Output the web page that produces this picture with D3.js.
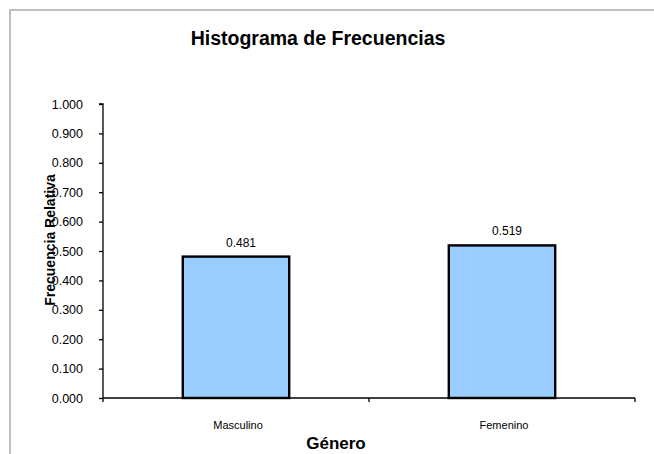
<!DOCTYPE html>
<html>
<head>
<meta charset="utf-8">
<script src="https://cdn.jsdelivr.net/npm/d3@7"></script>
<style>
  html, body { margin: 0; padding: 0; background: #fff; }
  svg { display: block; font-family: "Liberation Sans", Arial, sans-serif; }
</style>
</head>
<body>
<svg id="chart" width="654" height="454"></svg>
<script>
const categories = ["Masculino", "Femenino"];
const values = [0.481, 0.519];
const yTicks = [0, 0.1, 0.2, 0.3, 0.4, 0.5, 0.6, 0.7, 0.8, 0.9, 1.0];
const title = "Histograma de Frecuencias";
const xTitle = "Género";
const yTitle = "Frecuencia Relativa";

const svg = d3.select("#chart");
const W = 654, H = 454;
const plot = { left: 103, right: 635, top: 104, bottom: 398 };

// outer chart border
svg.append("rect")
  .attr("x", 10).attr("y", 10)
  .attr("width", W + 10).attr("height", H + 10)
  .attr("fill", "#fff").attr("stroke", "#c0c0c0").attr("stroke-width", 2);

const x = d3.scaleBand().domain(categories)
  .range([plot.left, plot.right])
  .paddingInner(0.6).paddingOuter(0.3);
const y = d3.scaleLinear().domain([0, 1]).range([plot.bottom, plot.top]);

// title
svg.append("text")
  .attr("x", 318).attr("y", 45)
  .attr("text-anchor", "middle")
  .attr("font-size", "19.5px").attr("font-weight", "bold")
  .text(title);

// y axis
const yAxis = d3.axisLeft(y).tickValues(yTicks).tickFormat(d3.format(".3f"))
  .tickSize(4).tickPadding(16);
const gy = svg.append("g").attr("transform", `translate(${plot.left},0)`).call(yAxis);
gy.select(".domain").attr("stroke", "#000").attr("stroke-width", 1.3)
  .attr("d", `M-4,${plot.top}H0V${plot.bottom}`);
gy.selectAll(".tick line").attr("stroke", "#000").attr("stroke-width", 1.3);
gy.selectAll(".tick text").attr("font-size", "12.5px")
  .attr("font-family", "'Liberation Sans', Arial, sans-serif").attr("fill", "#000");

// bars
svg.append("g").selectAll("rect")
  .data(values)
  .join("rect")
  .attr("x", (d, i) => x(categories[i]))
  .attr("y", d => y(d))
  .attr("width", x.bandwidth())
  .attr("height", d => y(0) - y(d))
  .attr("fill", "#99ccff")
  .attr("stroke", "#000").attr("stroke-width", 2.4);

// value labels
svg.append("g").selectAll("text")
  .data(values)
  .join("text")
  .attr("x", (d, i) => x(categories[i]) + x.bandwidth() / 2 + 5)
  .attr("y", d => y(d) - 10)
  .attr("text-anchor", "middle")
  .attr("font-size", "12px")
  .text(d => d3.format(".3f")(d));

// x axis
const step = x.step();
const xBoundaries = [0, 1, 2].map(i => plot.left + i * step);
svg.append("line")
  .attr("x1", plot.left).attr("x2", plot.right)
  .attr("y1", plot.bottom).attr("y2", plot.bottom)
  .attr("stroke", "#000").attr("stroke-width", 1.3);
svg.append("g").selectAll("line")
  .data(xBoundaries)
  .join("line")
  .attr("x1", d => d).attr("x2", d => d)
  .attr("y1", plot.bottom).attr("y2", plot.bottom + 4)
  .attr("stroke", "#000").attr("stroke-width", 1.3);

svg.append("g").selectAll("text")
  .data(categories)
  .join("text")
  .attr("x", d => x(d) + x.bandwidth() / 2 + 2)
  .attr("y", 429)
  .attr("text-anchor", "middle")
  .attr("font-size", "11px")
  .text(d => d);

// axis titles
svg.append("text")
  .attr("x", 336).attr("y", 449)
  .attr("text-anchor", "middle")
  .attr("font-size", "17px").attr("font-weight", "bold")
  .text(xTitle);

svg.append("text")
  .attr("transform", "translate(55,240) rotate(-90)")
  .attr("text-anchor", "middle")
  .attr("font-size", "14px").attr("font-weight", "bold")
  .text(yTitle);
</script>
</body>
</html>
